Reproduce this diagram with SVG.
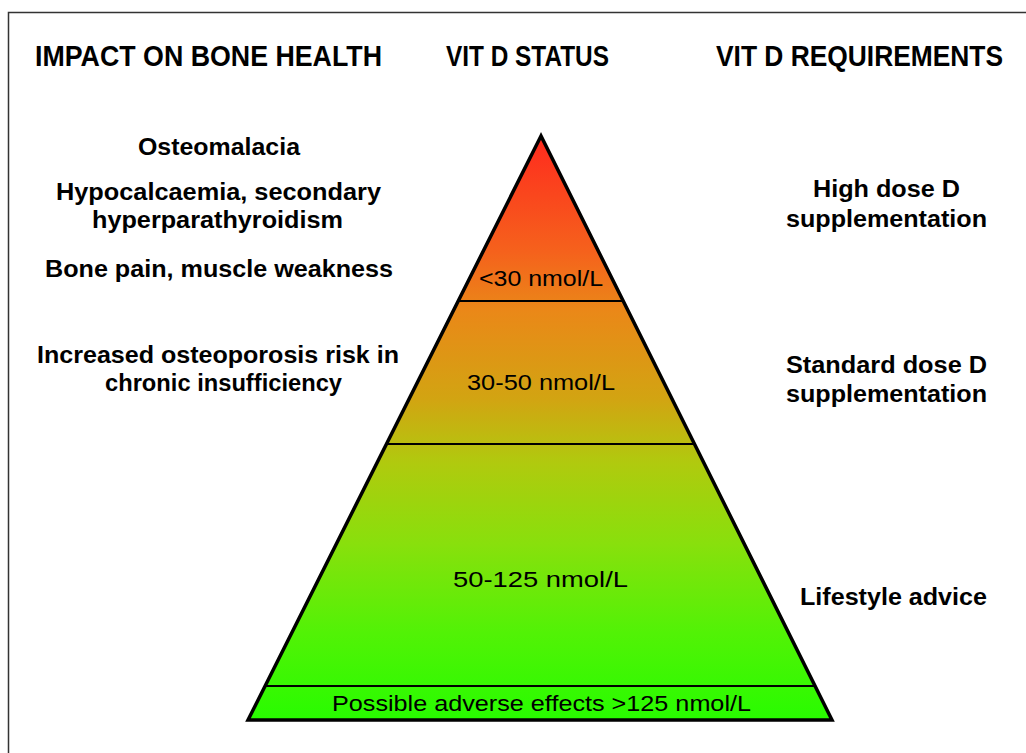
<svg xmlns="http://www.w3.org/2000/svg" width="1026" height="753" viewBox="0 0 1026 753">
<style>
.hdr{font-family:"Liberation Sans",Arial,sans-serif;font-weight:bold;font-size:29px;fill:#000}
.lbl{font-family:"Liberation Sans",Arial,sans-serif;font-weight:bold;font-size:23.5px;fill:#000}
.lvl{font-family:"Liberation Sans",Arial,sans-serif;font-size:22px;fill:#000}
.div{stroke:#000;stroke-width:2;fill:none}
</style>
<defs>
<linearGradient id="pyr" gradientUnits="userSpaceOnUse" x1="0" y1="136" x2="0" y2="720">
<stop offset="0" stop-color="#ff2a1e"/>
<stop offset="0.2" stop-color="#f5621c"/>
<stop offset="0.3" stop-color="#ea8818"/>
<stop offset="0.45" stop-color="#d2a412"/>
<stop offset="0.56" stop-color="#b0ca0e"/>
<stop offset="0.7" stop-color="#88e00c"/>
<stop offset="0.85" stop-color="#52f206"/>
<stop offset="1" stop-color="#28fc00"/>
</linearGradient>
</defs>
<rect width="1026" height="753" fill="#fff"/>
<path d="M8.5,760 V12.5 H1030" fill="none" stroke="#333" stroke-width="1.5"/>

<g id="headers">
<text class="hdr" x="35" y="66" textLength="347" lengthAdjust="spacingAndGlyphs">IMPACT ON BONE HEALTH</text>
<text class="hdr" x="446" y="66" textLength="163" lengthAdjust="spacingAndGlyphs">VIT D STATUS</text>
<text class="hdr" x="716" y="66" textLength="287" lengthAdjust="spacingAndGlyphs">VIT D REQUIREMENTS</text>
</g>

<g id="pyramid">
<polygon points="541,136 248,720 832,720" fill="url(#pyr)" stroke="#000" stroke-width="3.5" stroke-linejoin="miter"/>
</g>

<g id="connectors">
<line class="div" x1="458" y1="301" x2="624" y2="301"/>
<line class="div" x1="387" y1="444" x2="695" y2="444"/>
<line class="div" x1="266" y1="686" x2="816" y2="686"/>
</g>

<g id="level-1">
<text class="lvl" x="479" y="286" textLength="124" lengthAdjust="spacingAndGlyphs">&lt;30 nmol/L</text>
</g>
<g id="level-2">
<text class="lvl" x="467" y="390" textLength="148" lengthAdjust="spacingAndGlyphs">30-50 nmol/L</text>
</g>
<g id="level-3">
<text class="lvl" x="453" y="587" textLength="175" lengthAdjust="spacingAndGlyphs">50-125 nmol/L</text>
</g>
<g id="level-4">
<text class="lvl" x="332" y="711" textLength="419" lengthAdjust="spacingAndGlyphs">Possible adverse effects &gt;125 nmol/L</text>
</g>

<g id="impact">
<text class="lbl" x="138" y="155" textLength="162" lengthAdjust="spacingAndGlyphs">Osteomalacia</text>
<text class="lbl" x="56" y="200" textLength="325" lengthAdjust="spacingAndGlyphs">Hypocalcaemia, secondary</text>
<text class="lbl" x="92" y="228" textLength="251" lengthAdjust="spacingAndGlyphs">hyperparathyroidism</text>
<text class="lbl" x="45" y="277" textLength="348" lengthAdjust="spacingAndGlyphs">Bone pain, muscle weakness</text>
<text class="lbl" x="37" y="363" textLength="362" lengthAdjust="spacingAndGlyphs">Increased osteoporosis risk in</text>
<text class="lbl" x="105" y="391" textLength="237" lengthAdjust="spacingAndGlyphs">chronic insufficiency</text>
</g>

<g id="requirements">
<text class="lbl" x="813" y="197" textLength="147" lengthAdjust="spacingAndGlyphs">High dose D</text>
<text class="lbl" x="786" y="227" textLength="201" lengthAdjust="spacingAndGlyphs">supplementation</text>
<text class="lbl" x="786" y="373" textLength="201" lengthAdjust="spacingAndGlyphs">Standard dose D</text>
<text class="lbl" x="786" y="402" textLength="201" lengthAdjust="spacingAndGlyphs">supplementation</text>
<text class="lbl" x="800" y="605" textLength="187" lengthAdjust="spacingAndGlyphs">Lifestyle advice</text>
</g>
</svg>
